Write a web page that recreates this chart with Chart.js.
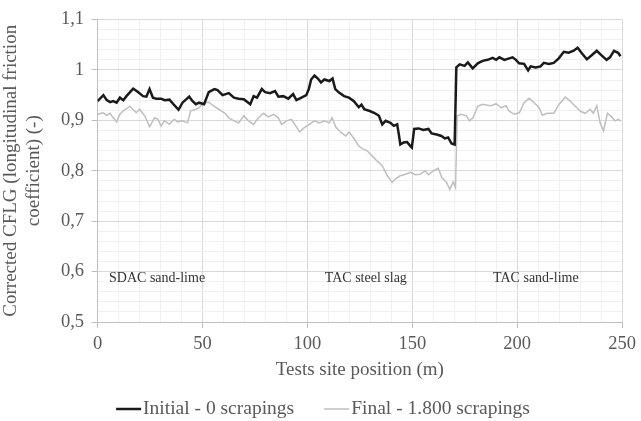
<!DOCTYPE html>
<html><head><meta charset="utf-8">
<script src="https://cdn.jsdelivr.net/npm/chart.js@4.4.0/dist/chart.umd.min.js"></script>
<style>html,body{margin:0;padding:0;background:#fff}#wrap{width:641px;height:421px}</style>
</head><body><div id="wrap"><canvas id="c" width="641" height="421"></canvas></div>
<script>
// ---- data ----
const xInitial = [0,2.8,4.4,6,7.5,9.1,10.7,12.3,13.8,17,19.3,21.7,23.3,24.8,26.4,28,30.3,32,34.3,36.6,38.6,40.5,43.7,45.3,46.9,48.4,50.8,53,55.7,57.2,59.6,62.6,65,67.3,69.7,72.8,74.4,76,78.3,79.9,82.2,84.6,86.2,88.5,90.9,93.2,94.8,97.2,99.5,100.7,101.8,103.4,105,106.5,108.1,110.5,112,113.3,115.1,117.5,119.8,122.2,124.5,125.8,127.1,129.4,131.8,134.1,135.7,137.3,139.6,141.2,142.8,143.6,144.3,145.9,147.5,149.1,149.8,150.9,153,155.3,157.7,159.2,161.6,163.9,165.5,167.1,168.7,170.2,171,172.6,174.9,176.5,178.8,181.2,183.5,185.9,188.3,190,191.5,193.9,196.2,197.8,199.4,200.9,203.3,205.2,206.4,208.8,211.1,212.7,215.1,217.4,219.8,222.2,224.5,226.9,228.8,230.8,233.2,235.5,237.9,240.2,242.6,244.2,246.1,248.1,249.2];
const yInitial = [0.938,0.950,0.940,0.936,0.938,0.935,0.945,0.940,0.948,0.963,0.956,0.948,0.947,0.962,0.945,0.943,0.943,0.940,0.941,0.930,0.921,0.935,0.947,0.938,0.932,0.935,0.932,0.956,0.962,0.960,0.950,0.954,0.945,0.943,0.942,0.932,0.948,0.945,0.962,0.956,0.954,0.958,0.947,0.948,0.943,0.952,0.940,0.945,0.950,0.962,0.981,0.989,0.983,0.975,0.981,0.978,0.983,0.962,0.955,0.948,0.945,0.938,0.926,0.931,0.922,0.919,0.915,0.909,0.892,0.899,0.895,0.889,0.892,0.872,0.852,0.856,0.857,0.849,0.846,0.883,0.884,0.881,0.883,0.874,0.872,0.869,0.864,0.866,0.854,0.852,1.005,1.011,1.008,1.015,1.003,1.013,1.018,1.020,1.024,1.020,1.025,1.020,1.023,1.025,1.020,1.013,1.012,0.999,1.007,1.005,1.007,1.014,1.012,1.014,1.023,1.036,1.034,1.038,1.044,1.033,1.021,1.029,1.038,1.029,1.020,1.025,1.038,1.034,1.027];
const xFinal = [0,2.8,4.4,6,7.5,9.1,10.7,12.3,13.8,15.4,17,18.5,20.1,22.5,24.8,27.2,28.8,30.3,31.9,34.3,36.6,38.2,40.5,42.9,44.4,46.9,48.4,50.8,53.1,55.5,57.8,61,62.6,65,67.3,69.7,72,74.4,76.7,79.1,81.4,83.8,86.2,87.7,90.1,92.4,94,96.3,98.7,101,103.4,105.8,108.1,110.5,111.8,113.6,116,118.3,119.9,122.2,124.5,126.3,128.6,131,133.3,135.7,138.1,140.4,142,144.3,146.7,149.1,151.4,153.8,156.1,157.7,160.1,162.4,164,166.3,167.9,169.5,170.6,171.4,173.4,175.8,177.3,178.9,181.2,183.6,185.9,187.6,190,192.3,194.7,196.2,198.6,201,203.3,205.7,208.1,210.4,212,214.3,217.5,219.8,222.9,225.3,227.7,230.1,232.4,234.8,236.3,237.9,239.5,241.1,243,245,246.6,248.2,249.2];
const yFinal = [0.912,0.915,0.910,0.914,0.905,0.897,0.912,0.919,0.923,0.928,0.921,0.915,0.922,0.909,0.887,0.905,0.902,0.889,0.899,0.892,0.902,0.897,0.899,0.895,0.919,0.922,0.925,0.935,0.936,0.928,0.922,0.913,0.905,0.899,0.895,0.909,0.899,0.892,0.905,0.914,0.907,0.912,0.905,0.892,0.899,0.902,0.892,0.877,0.886,0.892,0.899,0.895,0.899,0.895,0.905,0.886,0.876,0.869,0.877,0.864,0.849,0.844,0.839,0.829,0.819,0.810,0.790,0.777,0.784,0.790,0.793,0.797,0.792,0.793,0.800,0.792,0.800,0.805,0.787,0.777,0.763,0.778,0.767,0.909,0.912,0.909,0.899,0.905,0.928,0.932,0.930,0.929,0.933,0.925,0.929,0.918,0.912,0.915,0.935,0.944,0.935,0.925,0.910,0.914,0.914,0.931,0.946,0.938,0.928,0.918,0.914,0.922,0.914,0.929,0.895,0.879,0.914,0.907,0.899,0.902,0.899];
const seriesNames = ['Initial - 0 scrapings', 'Final - 1.800 scrapings'];
const xTickLabels = [0, 50, 100, 150, 200, 250];
const yTickLabels = ['0,5', '0,6', '0,7', '0,8', '0,9', '1', '1,1'];
const sectionNames = ['SDAC sand-lime', 'TAC steel slag', 'TAC sand-lime'];
const sectionStart = [5.5, 108.3, 188.5];
const sectionLevel = 0.586;

const toPts = (xs, ys) => xs.map((x, i) => ({x: x, y: ys[i]}));
const FONT = '"Liberation Serif", "Times New Roman", serif';
const TXT = '#595959';
const isMajorY = v => Math.abs(v * 10 - Math.round(v * 10)) < 1e-6;
const isMajorX = v => Math.abs(v / 50 - Math.round(v / 50)) < 1e-6;

const sectionPlugin = {
  id: 'sections',
  afterDraw(chart) {
    const {ctx, scales} = chart;
    ctx.save();
    ctx.font = '14px ' + FONT;
    ctx.fillStyle = '#333333';
    ctx.textAlign = 'left';
    ctx.textBaseline = 'middle';
    sectionNames.forEach((t, i) => {
      ctx.fillText(t, scales.x.getPixelForValue(sectionStart[i]), scales.y.getPixelForValue(sectionLevel));
    });
    ctx.restore();
  }
};

const legendPlugin = {
  id: 'bottomLegend',
  afterDraw(chart) {
    const ctx = chart.ctx;
    ctx.save();
    ctx.font = '19.5px ' + FONT;
    const lineLen = 25, gap = 2, itemGap = 30, cy = 409, cx = 323;
    const items = chart.data.datasets.map(d => ({text: d.label, color: d.borderColor, lw: d.borderWidth, tw: ctx.measureText(d.label).width}));
    const total = items.reduce((s, it) => s + lineLen + gap + it.tw, 0) + itemGap * (items.length - 1);
    let x = cx - total / 2;
    items.forEach(it => {
      ctx.strokeStyle = it.color;
      ctx.lineWidth = it.lw;
      ctx.beginPath();
      ctx.moveTo(x, cy);
      ctx.lineTo(x + lineLen, cy);
      ctx.stroke();
      ctx.fillStyle = TXT;
      ctx.textAlign = 'left';
      ctx.textBaseline = 'middle';
      ctx.fillText(it.text, x + lineLen + gap, cy);
      x += lineLen + gap + it.tw + itemGap;
    });
    ctx.restore();
  }
};

new Chart(document.getElementById('c'), {
  type: 'line',
  data: {
    datasets: [
      {label: seriesNames[0], data: toPts(xInitial, yInitial), borderColor: '#1a1a1a', borderWidth: 2.5, pointRadius: 0, tension: 0, fill: false},
      {label: seriesNames[1], data: toPts(xFinal, yFinal), borderColor: '#bfbfbf', borderWidth: 1.5, pointRadius: 0, tension: 0, fill: false}
    ]
  },
  options: {
    responsive: false,
    animation: false,
    devicePixelRatio: 1,
    layout: {padding: {top: 19.5, right: 15, left: 0, bottom: 0}},
    plugins: {
      legend: {display: false},
      tooltip: {enabled: false}
    },
    scales: {
      x: {
        type: 'linear', min: 0, max: 250,
        afterBuildTicks(s) { s.ticks = []; for (let v = 0; v <= 250; v += 10) s.ticks.push({value: v}); },
        afterFit(s) { s.height = 99; },
        ticks: {
          autoSkip: false, maxRotation: 0, padding: 5, color: TXT, font: {family: FONT, size: 18.5},
          callback: v => { const i = xTickLabels.indexOf(v); return i >= 0 ? String(xTickLabels[i]) : ''; }
        },
        grid: {
          color: c => isMajorX(c.tick.value) ? '#d9d9d9' : '#f0f0f0',
          tickColor: c => isMajorX(c.tick.value) ? '#bfbfbf' : 'rgba(0,0,0,0)',
          tickLength: 6, lineWidth: 1
        },
        border: {color: '#bfbfbf', width: 1},
        title: {display: true, text: 'Tests site position (m)', color: TXT, font: {family: FONT, size: 19}, padding: {top: 0, bottom: 39.6}}
      },
      y: {
        type: 'linear', min: 0.5, max: 1.1,
        afterBuildTicks(s) { s.ticks = []; for (let k = 0; k <= 30; k++) s.ticks.push({value: Math.round((0.5 + k * 0.02) * 1000) / 1000}); },
        afterFit(s) { s.width = 97.5; },
        ticks: {
          autoSkip: false, padding: 7.5, color: TXT, font: {family: FONT, size: 18.5},
          callback: v => isMajorY(v) ? yTickLabels[Math.round((v - 0.5) * 10)] : ''
        },
        grid: {
          color: c => isMajorY(c.tick.value) ? '#d9d9d9' : '#f0f0f0',
          tickColor: c => isMajorY(c.tick.value) ? '#bfbfbf' : 'rgba(0,0,0,0)',
          tickLength: 6, lineWidth: 1
        },
        border: {color: '#bfbfbf', width: 1},
        title: {display: true, text: ['Corrected CFLG (longitudinal friction', 'coefficient) (-)'], color: TXT, font: {family: FONT, size: 19, lineHeight: 1.2}, padding: {top: 0, bottom: 0}}
      }
    }
  },
  plugins: [sectionPlugin, legendPlugin]
});
</script>
</body></html>
